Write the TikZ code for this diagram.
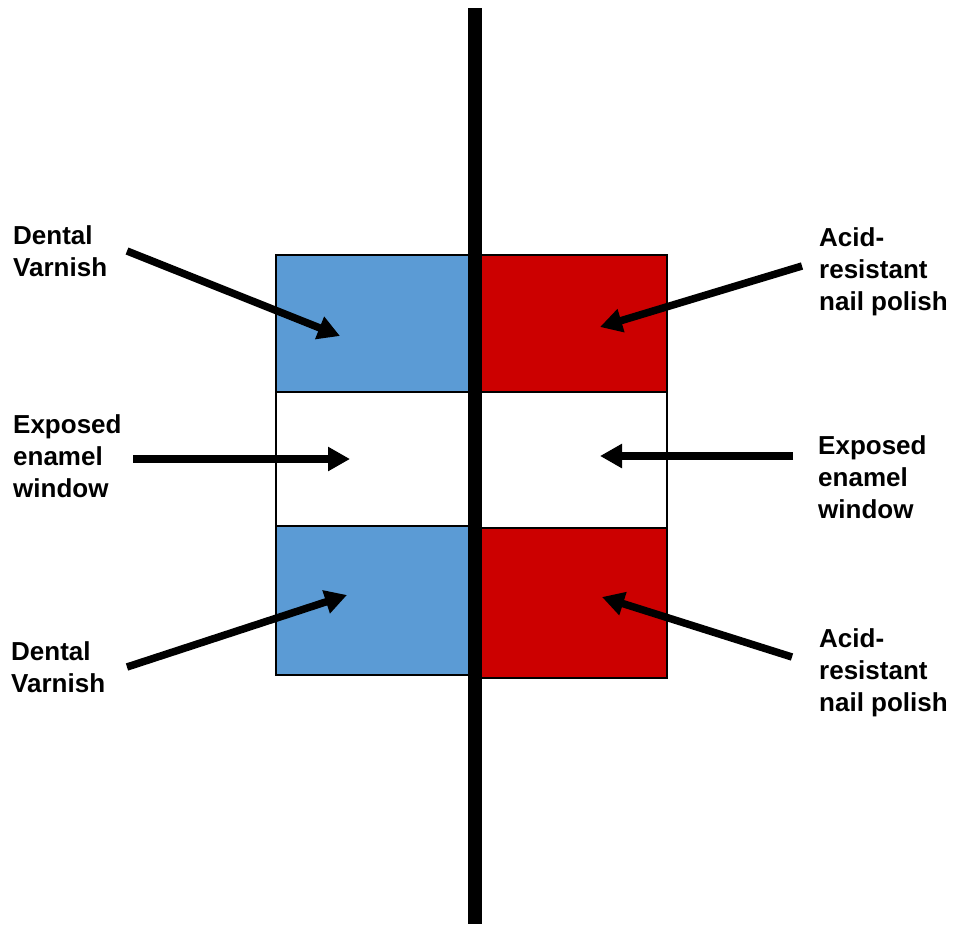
\documentclass[tikz,border=0pt]{standalone}
\usepackage{fontspec}
\setmainfont{Liberation Sans}
\usetikzlibrary{arrows.meta}
\definecolor{varnishblue}{RGB}{91,155,213}
\definecolor{polishred}{RGB}{204,0,0}
\begin{document}
\begin{tikzpicture}[x=1pt,y=-1pt,
  lbl/.style={anchor=north west,inner sep=0pt,align=left,font=\fontsize{26}{32}\selectfont\bfseries},
  pointer/.style={-{Triangle[length=22pt,width=23pt]},line width=7.5pt},
  box/.style={draw=black,line width=1.2pt}]
\useasboundingbox (0,0) rectangle (955,927);
% left side
\filldraw[box,fill=varnishblue] (276,255) rectangle (475,392);
\draw[box] (276,392) rectangle (475,526);
\filldraw[box,fill=varnishblue] (276,526) rectangle (475,675);
% right side
\filldraw[box,fill=polishred] (475,255) rectangle (667,392);
\draw[box] (475,392) rectangle (667,528);
\filldraw[box,fill=polishred] (475,528) rectangle (667,678);
\draw[line width=14pt] (475,8) -- (475,924);
\node[lbl] (varnishtop) at (13,225.7) {Dental\\Varnish};
\node[lbl] (windowleft) at (13,414) {Exposed\\enamel\\window};
\node[lbl] (varnishbot) at (11,641.4) {Dental\\Varnish};
\node[lbl] (polishtop) at (819,227) {Acid-\\resistant\\nail polish};
\node[lbl] (windowright) at (818,435.7) {Exposed\\enamel\\window};
\node[lbl] (polishbot) at (819,628.1) {Acid-\\resistant\\nail polish};
\coordinate (vt0) at (127,251); \coordinate (vt1) at (340,336);
\coordinate (wl0) at (133,459); \coordinate (wl1) at (350,459);
\coordinate (vb0) at (127,667); \coordinate (vb1) at (347,595);
\coordinate (pt0) at (802,266); \coordinate (pt1) at (600,327);
\coordinate (wr0) at (793,456); \coordinate (wr1) at (600,456);
\coordinate (pb0) at (792,657); \coordinate (pb1) at (602,597);
\draw[pointer] (vt0) -- (vt1);
\draw[pointer] (wl0) -- (wl1);
\draw[pointer] (vb0) -- (vb1);
\draw[pointer] (pt0) -- (pt1);
\draw[pointer] (wr0) -- (wr1);
\draw[pointer] (pb0) -- (pb1);
\end{tikzpicture}
\end{document}
